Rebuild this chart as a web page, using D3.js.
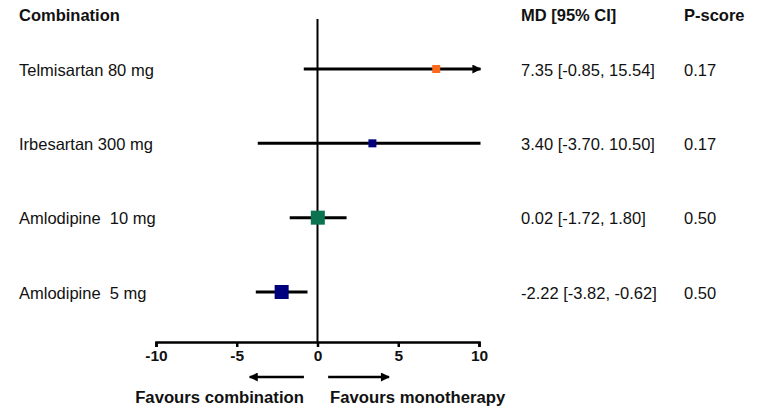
<!DOCTYPE html>
<html>
<head>
<meta charset="utf-8">
<script src="https://cdn.jsdelivr.net/npm/d3@7"></script>
<style>
  body { margin: 0; background: #fff; }
  text { font-family: Arial, "Liberation Sans", sans-serif; fill: #111; }
</style>
</head>
<body>
<div id="chart"></div>
<script>
// data
var combos = ["Telmisartan 80 mg", "Irbesartan 300 mg", "Amlodipine  10 mg", "Amlodipine  5 mg"];
var md = [7.35, 3.40, 0.02, -2.22];
var lower = [-0.85, -3.70, -1.72, -3.82];
var upper = [15.54, 10.50, 1.80, -0.62];
var ciText = ["7.35 [-0.85, 15.54]", "3.40 [-3.70. 10.50]", "0.02 [-1.72, 1.80]", "-2.22 [-3.82, -0.62]"];
var pScore = ["0.17", "0.17", "0.50", "0.50"];
var xTicks = [-10, -5, 0, 5, 10];

// styles
var colors = ["#fa6a1c", "#00007f", "#0b7350", "#00007f"];
var boxSize = [8, 8, 14, 14];

var width = 759,
    height = 409;

var svg = d3.select("#chart").append("svg")
    .attr("width", width)
    .attr("height", height);

var x = d3.scaleLinear()
    .domain([-10, 10])
    .range([156, 479]);

var y = d3.scalePoint()
    .domain(combos)
    .range([69, 292]);

var axisY = 342;

var rows = combos.map(function(c, i) {
    return { name: c, md: md[i], lo: lower[i], hi: upper[i], ci: ciText[i], p: pScore[i], i: i };
});

// arrow head marker
svg.append("defs").append("marker")
    .attr("id", "head")
    .attr("viewBox", "0 0 10 10")
    .attr("refX", 9).attr("refY", 5)
    .attr("markerWidth", 10).attr("markerHeight", 9)
    .attr("markerUnits", "userSpaceOnUse")
    .attr("orient", "auto")
    .append("path")
    .attr("d", "M0,0L10,5L0,10Z")
    .attr("fill", "#000");

// headers
svg.append("text").attr("x", 19).attr("y", 21)
    .attr("font-weight", "bold").attr("font-size", 16.5)
    .text("Combination");
svg.append("text").attr("x", 521).attr("y", 21)
    .attr("font-weight", "bold").attr("font-size", 16.5)
    .text("MD [95% CI]");
svg.append("text").attr("x", 684).attr("y", 21)
    .attr("font-weight", "bold").attr("font-size", 16.5)
    .text("P-score");

// line of no effect
svg.append("line")
    .attr("x1", x(0)).attr("x2", x(0))
    .attr("y1", 19).attr("y2", axisY)
    .attr("stroke", "#000").attr("stroke-width", 2);

// x axis
var axis = svg.append("g")
    .attr("transform", "translate(0," + axisY + ")")
    .call(d3.axisBottom(x).tickValues(xTicks).tickSize(5).tickPadding(3)
        .tickFormat(function(d) { return String(d); }));
axis.select(".domain").attr("stroke", "#000").attr("stroke-width", 2.5);
axis.selectAll(".tick line").attr("stroke", "#000").attr("stroke-width", 2.5);
axis.selectAll(".tick text")
    .attr("font-family", "Arial, 'Liberation Sans', sans-serif")
    .attr("font-weight", "bold").attr("font-size", 15.5).attr("fill", "#111");

// confidence intervals (clipped to the axis range, arrow when cut)
var g = svg.append("g");
g.selectAll("line.ci")
    .data(rows).enter()
    .append("line")
    .attr("class", "ci")
    .attr("x1", function(d) { return x(Math.max(d.lo, -10)); })
    .attr("x2", function(d) { return x(Math.min(d.hi, 10)) + (d.hi > 10 ? 1.5 : 0); })
    .attr("y1", function(d) { return y(d.name); })
    .attr("y2", function(d) { return y(d.name); })
    .attr("stroke", "#000").attr("stroke-width", 3)
    .attr("marker-end", function(d) { return d.hi > 15 ? "url(#head)" : null; });

g.selectAll("rect.box")
    .data(rows).enter()
    .append("rect")
    .attr("class", "box")
    .attr("x", function(d) { return x(d.md) - boxSize[d.i] / 2; })
    .attr("y", function(d) { return y(d.name) - boxSize[d.i] / 2; })
    .attr("width", function(d) { return boxSize[d.i]; })
    .attr("height", function(d) { return boxSize[d.i]; })
    .attr("fill", function(d) { return colors[d.i]; });

// row texts
var t = svg.append("g").attr("font-size", 16.5);
t.selectAll("text.lab")
    .data(rows).enter()
    .append("text")
    .attr("class", "lab")
    .attr("xml:space", "preserve")
    .attr("x", 19)
    .attr("y", function(d) { return y(d.name) + 6.5; })
    .text(function(d) { return d.name; });
t.selectAll("text.ci")
    .data(rows).enter()
    .append("text")
    .attr("class", "ci")
    .attr("x", 521)
    .attr("y", function(d) { return y(d.name) + 6.5; })
    .text(function(d) { return d.ci; });
t.selectAll("text.p")
    .data(rows).enter()
    .append("text")
    .attr("class", "p")
    .attr("x", 684)
    .attr("y", function(d) { return y(d.name) + 6.5; })
    .text(function(d) { return d.p; });

// favours arrows
svg.append("line")
    .attr("x1", x(-0.84)).attr("x2", x(-4.2))
    .attr("y1", 377).attr("y2", 377)
    .attr("stroke", "#000").attr("stroke-width", 2.5)
    .attr("marker-end", "url(#head)");
svg.append("line")
    .attr("x1", x(0.66)).attr("x2", x(4.43))
    .attr("y1", 377).attr("y2", 377)
    .attr("stroke", "#000").attr("stroke-width", 2.5)
    .attr("marker-end", "url(#head)");

svg.append("text")
    .attr("x", x(-0.84)).attr("y", 403)
    .attr("text-anchor", "end")
    .attr("font-weight", "bold").attr("font-size", 16.7)
    .text("Favours combination");
svg.append("text")
    .attr("x", x(0.78)).attr("y", 403)
    .attr("font-weight", "bold").attr("font-size", 16.7)
    .text("Favours monotherapy");
</script>
</body>
</html>
